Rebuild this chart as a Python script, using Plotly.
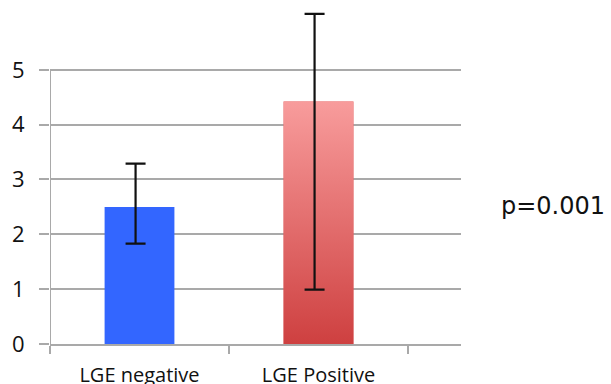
import plotly.graph_objects as go

categories = ["LGE negative", "LGE Positive"]
means = [2.5, 4.42]
err_plus = [0.79, 1.6]
err_minus = [0.67, 3.43]
y_ticks = [0, 1, 2, 3, 4, 5]
p_text = "p=0.001"

BAR_W = 0.39
ERR_SHIFT = -0.022
xs = list(range(len(categories)))
GRID = "#a9a9a9"
X_LO, X_HI = -0.5, 1.796

fig = go.Figure()
fig.add_trace(go.Bar(
    x=xs, y=means, width=BAR_W,
    marker=dict(color=["#3366FF", "#DD5858"], line=dict(width=0)),
    showlegend=False, hoverinfo="skip",
))
# vertical gradient overlay for the positive bar
i = 1
fig.add_trace(go.Scatter(
    x=[xs[i] - BAR_W / 2, xs[i] - BAR_W / 2, xs[i] + BAR_W / 2, xs[i] + BAR_W / 2, xs[i] - BAR_W / 2],
    y=[0, means[i], means[i], 0, 0],
    mode="lines", line=dict(width=0), fill="toself",
    fillgradient=dict(type="vertical", colorscale=[[0, "#CE4040"], [1, "#F89C9C"]]),
    showlegend=False, hoverinfo="skip",
))
fig.add_trace(go.Scatter(
    x=[x + ERR_SHIFT for x in xs], y=means, mode="markers",
    marker=dict(size=1, color="rgba(0,0,0,0)"),
    error_y=dict(type="data", symmetric=False, array=err_plus, arrayminus=err_minus,
                 color="#111111", thickness=2.2, width=10),
    cliponaxis=False, showlegend=False, hoverinfo="skip",
))

# y-axis line only over the ticked range
fig.add_shape(type="line", xref="x", yref="y", x0=X_LO, x1=X_LO,
              y0=min(y_ticks), y1=max(y_ticks), line=dict(color=GRID, width=2), layer="above")

fig.add_annotation(
    x=1.093, xref="paper", y=2.52, yref="y", text=p_text, showarrow=False,
    xanchor="left", yanchor="middle",
    font=dict(family="DejaVu Sans", size=24, color="#111111"),
)

fig.update_layout(
    width=611, height=384,
    margin=dict(l=50, r=150, t=4, b=40),
    plot_bgcolor="white", paper_bgcolor="white",
    showlegend=False,
    xaxis=dict(
        range=[X_LO, X_HI], tickvals=xs, ticktext=categories, ticks="",
        showgrid=False, zeroline=False, automargin=False,
        showline=True, linecolor=GRID, linewidth=2,
        minor=dict(ticks="outside", tick0=0.5, dtick=1, ticklen=8, tickwidth=2,
                   tickcolor=GRID, showgrid=False),
        tickfont=dict(family="Open Sans", size=20, color="#111111"),
        ticklabelstandoff=12,
    ),
    yaxis=dict(
        range=[0, 6.2], tickvals=y_ticks, ticks="outside", ticklen=10, tickwidth=2,
        tickcolor=GRID, showgrid=True, gridcolor=GRID, gridwidth=2,
        zeroline=False, showline=False, automargin=False,
        tickfont=dict(family="Open Sans", size=22, color="#111111"),
        ticklabelstandoff=10,
    ),
)

fig.write_html("out.html", config={"displayModeBar": False},
               post_script="document.body.style.margin='0';")
